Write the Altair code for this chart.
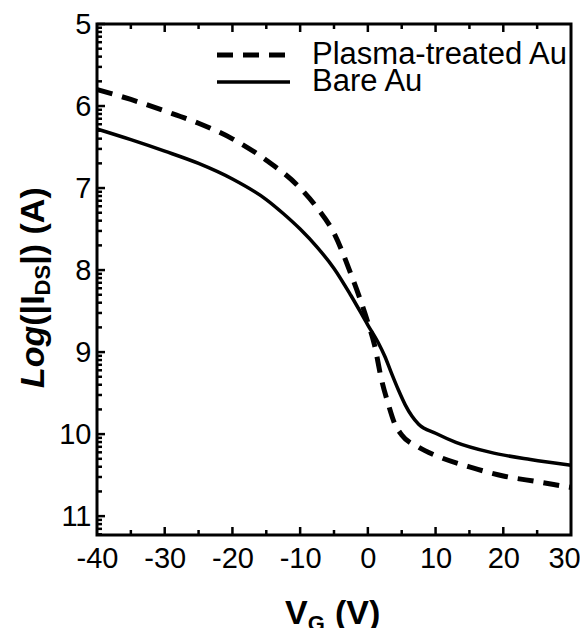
import math
import altair as alt
import pandas as pd

# ---- data ----
plasma_vg = [-40, -35, -30, -25, -20, -15, -10, -7.5, -5, -2.5, 0, 1, 2, 3, 4, 5, 7.5, 10, 15, 20, 25, 30]
plasma_log = [5.80, 5.92, 6.06, 6.21, 6.40, 6.66, 7.00, 7.24, 7.55, 8.05, 8.64, 8.92, 9.33, 9.63, 9.88, 10.01, 10.16, 10.26, 10.40, 10.51, 10.58, 10.65]

bare_vg = [-40, -35, -30, -25, -20, -15, -12.5, -10, -7.5, -5, -2.5, 0, 1.5, 2.5, 3.5, 4.5, 5.5, 6.5, 7.5, 10, 13, 18, 24, 30]
bare_log = [6.28, 6.41, 6.55, 6.70, 6.89, 7.14, 7.31, 7.50, 7.72, 7.98, 8.31, 8.67, 8.88, 9.05, 9.26, 9.46, 9.64, 9.78, 9.88, 9.99, 10.10, 10.22, 10.31, 10.38]

legend_labels = ["Plasma-treated Au", "Bare Au"]

x_major = [-40, -30, -20, -10, 0, 10, 20, 30]
x_minor = [-35, -25, -15, -5, 5, 15, 25]
y_major = [5, 6, 7, 8, 9, 10, 11]
Y_MAX = 11.23
y_minor = [d + 1 - math.log10(k) for d in range(5, 11) for k in range(2, 10)]
y_minor += [11 + 1 - math.log10(k) for k in range(2, 10) if 12 - math.log10(k) <= Y_MAX]

# ---- styling ----
FONT = "Liberation Sans"
W, H = 474, 511
xscale = alt.Scale(domain=[-40, 30], nice=False, zero=False)
yscale = alt.Scale(domain=[5, Y_MAX], nice=False, zero=False, reverse=True)
xaxis = alt.Axis(values=x_major, ticks=False, domain=False, grid=False, labelFontSize=29,
                 labelFont=FONT, labelColor="black", labelPadding=9, labelFlush=False,
                 labelOverlap=False, labelBound=False, labelExpr="datum.value + ''", title=None,
                 labelOffset={"condition": {"test": "datum.value == 30", "value": -7}, "value": 0})
yaxis = alt.Axis(values=y_major, ticks=False, domain=False, grid=False, labelFontSize=29,
                 labelFont=FONT, labelColor="black", labelPadding=6, labelFlush=False,
                 labelOverlap=False, labelBound=False, labelExpr="datum.value + ''", title=None)

df_p = pd.DataFrame({"vg": plasma_vg, "lg": plasma_log})
df_b = pd.DataFrame({"vg": bare_vg, "lg": bare_log})

X = alt.X("vg:Q", scale=xscale, axis=xaxis)
Y = alt.Y("lg:Q", scale=yscale, axis=yaxis)

plasma = alt.Chart(df_p).mark_line(color="black", strokeWidth=5, strokeDash=[16, 10],
                                   interpolate="monotone").encode(x=X, y=Y)
bare = alt.Chart(df_b).mark_line(color="black", strokeWidth=3.5,
                                 interpolate="monotone").encode(x=X, y=Y)

def xticks(vals, length):
    d = pd.DataFrame({"vg": vals})
    bottom = alt.Chart(d).mark_rule(color="black", strokeWidth=2.5).encode(
        x=X, y=alt.value(H), y2=alt.value(H - length))
    top = alt.Chart(d).mark_rule(color="black", strokeWidth=2.5).encode(
        x=X, y=alt.value(0), y2=alt.value(length))
    return [bottom, top]

def yticks(vals, length):
    d = pd.DataFrame({"lg": vals})
    return [alt.Chart(d).mark_rule(color="black", strokeWidth=2.5).encode(
        y=Y, x=alt.value(0), x2=alt.value(length))]

one = alt.Data(values=[{"a": 1}])

def label(txt, x, y, size=34, weight="bold", style="normal", angle=0, baseline="alphabetic"):
    return alt.Chart(one).mark_text(text=txt, font=FONT, fontSize=size, fontWeight=weight,
                                    fontStyle=style, angle=angle, align="left",
                                    baseline=baseline, color="black").encode(
        x=alt.value(x), y=alt.value(y))

layers = [plasma, bare]
layers += xticks(x_major[1:-1], 8) + xticks(x_minor, 5)
layers += yticks(y_major, 8) + yticks(y_minor, 5)

# legend
layers.append(alt.Chart(one).mark_rule(color="black", strokeWidth=5, strokeDash=[16, 10]).encode(
    x=alt.value(120), x2=alt.value(193), y=alt.value(31)))
layers.append(alt.Chart(one).mark_rule(color="black", strokeWidth=3.5).encode(
    x=alt.value(120), x2=alt.value(193), y=alt.value(58)))
layers.append(label(legend_labels[0], 215, 31, size=31, weight="normal", baseline="middle"))
layers.append(label(legend_labels[1], 215, 58, size=31, weight="normal", baseline="middle"))

# x title: V_G (V)
layers.append(label("V", 188, 600))
layers.append(label("G", 210.7, 607, size=22))
layers.append(label("(V)", 238, 600))

# y title: Log(|I_DS|) (A)
layers.append(label("Log", -53, 364, style="italic", angle=270))
layers.append(label("(|I", -53, 301.7, angle=270))
layers.append(label("DS", -47, 271.4, size=22, angle=270))
layers.append(label("|)", -53, 240.8, angle=270))
layers.append(label("(A)", -53, 210.5, angle=270))

chart = alt.layer(*layers).properties(
    width=W, height=H,
    autosize=alt.AutoSizeParams(type="none"),
    padding={"left": 89, "top": 16, "right": 9, "bottom": 96},
).configure_view(stroke="black", strokeWidth=3)

chart.save("out.html", embed_options={"renderer": "svg", "actions": False})
